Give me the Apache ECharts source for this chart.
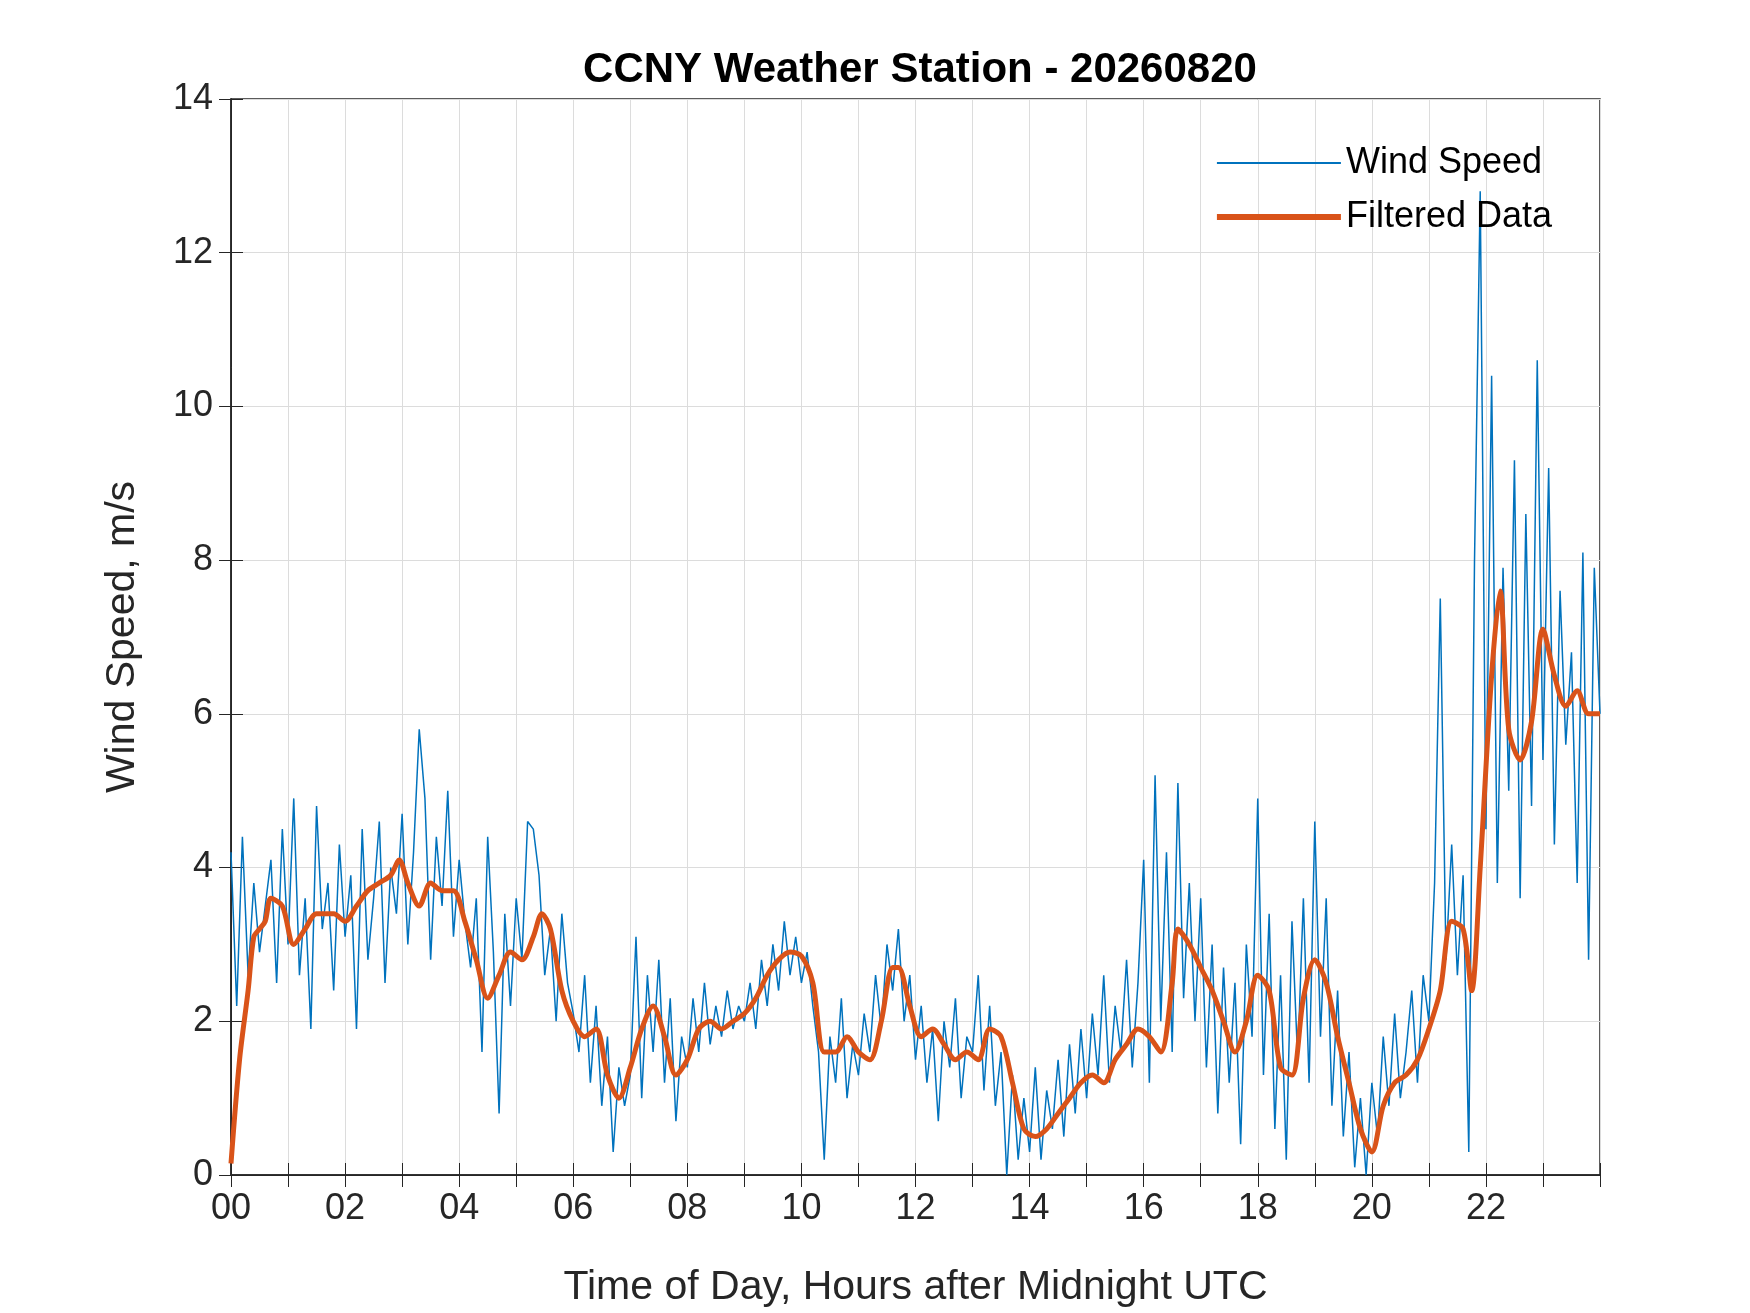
<!DOCTYPE html>
<html><head><meta charset="utf-8">
<script src="https://cdn.jsdelivr.net/npm/echarts@6/dist/echarts.min.js"></script>
<style>html,body{margin:0;padding:0;background:#fff}#c{width:1750px;height:1313px}</style>
</head><body><div id="c"></div>
<script>
// Wind speed samples, one every 0.1 h, hour by hour
const windStep = 0.1;
const windValues = [
4.2,2.2,4.4,2.6,3.8,2.9,3.5,4.1,2.5,4.5,
3.0,4.9,2.6,3.6,1.9,4.8,3.2,3.8,2.4,4.3,
3.1,3.9,1.9,4.5,2.8,3.6,4.6,2.5,4.0,3.4,
4.7,3.0,4.2,5.8,4.9,2.8,4.4,3.5,5.0,3.1,
4.1,3.3,2.7,3.6,1.6,4.4,2.9,0.8,3.4,2.2,
3.6,2.8,4.6,4.5,3.9,2.6,3.2,2.0,3.4,2.5,
2.1,1.6,2.6,1.2,2.2,0.9,1.8,0.3,1.4,0.9,
1.3,3.1,1.0,2.6,1.6,2.8,1.2,2.3,0.7,1.8,
1.4,2.3,1.6,2.5,1.7,2.2,1.8,2.4,1.9,2.2,
2.0,2.5,1.9,2.8,2.2,3.0,2.4,3.3,2.6,3.1,
2.5,2.9,2.2,1.6,0.2,1.8,1.2,2.3,1.0,1.7,
1.3,2.1,1.6,2.6,1.9,3.0,2.4,3.2,2.0,2.6,
1.5,2.2,1.2,1.9,0.7,2.0,1.4,2.3,1.0,1.8,
1.6,2.6,1.1,2.2,0.9,1.6,0.0,1.3,0.2,1.0,
0.3,1.4,0.2,1.1,0.6,1.5,0.5,1.7,0.8,1.9,
1.0,2.1,1.3,2.6,1.2,2.2,1.6,2.8,1.4,2.5,
4.1,1.2,5.2,2.0,4.2,1.6,5.1,2.3,3.8,2.0,
3.6,1.4,3.0,0.8,2.7,1.2,2.5,0.4,3.0,1.8,
4.9,1.3,3.4,0.6,2.6,0.2,3.3,1.5,3.6,1.2,
4.6,1.8,3.6,0.9,2.4,0.5,1.6,0.1,1.0,0.0,
1.2,0.5,1.8,0.9,2.1,1.0,1.6,2.4,1.2,2.6,
2.0,3.8,7.5,2.8,4.3,2.6,3.9,0.3,8.0,12.8,
4.5,10.4,3.8,7.9,5.0,9.3,3.6,8.6,4.8,10.6,
5.4,9.2,4.3,7.6,5.6,6.8,3.8,8.1,2.8,7.9,
6.0];
const filtHours = [0,0.15,0.3,0.4,0.5,0.6,0.7,0.9,1.1,1.3,1.5,1.8,2.0,2.2,2.4,2.6,2.8,2.95,3.1,3.3,3.5,3.7,3.9,4.1,4.3,4.5,4.7,4.9,5.1,5.3,5.45,5.6,5.8,6.0,6.2,6.4,6.6,6.8,7.0,7.2,7.4,7.6,7.8,8.0,8.2,8.4,8.6,8.8,9.0,9.2,9.4,9.6,9.8,10.0,10.2,10.4,10.6,10.8,11.0,11.2,11.4,11.6,11.7,11.9,12.1,12.3,12.5,12.7,12.9,13.1,13.3,13.5,13.7,13.9,14.1,14.3,14.5,14.7,14.9,15.1,15.3,15.5,15.7,15.9,16.1,16.3,16.5,16.6,16.8,17.0,17.2,17.4,17.6,17.8,18.0,18.2,18.4,18.6,18.8,19.0,19.2,19.4,19.6,19.8,20.0,20.2,20.4,20.6,20.8,21.0,21.2,21.4,21.6,21.75,21.9,22.1,22.25,22.4,22.6,22.8,23.0,23.2,23.4,23.6,23.8,24.0];
const filtValues = [0.15,1.5,2.4,3.1,3.2,3.3,3.6,3.5,3.0,3.2,3.4,3.4,3.3,3.5,3.7,3.8,3.9,4.1,3.8,3.5,3.8,3.7,3.7,3.3,2.8,2.3,2.6,2.9,2.8,3.1,3.4,3.2,2.4,2.0,1.8,1.9,1.3,1.0,1.4,1.9,2.2,1.8,1.3,1.5,1.9,2.0,1.9,2.0,2.1,2.3,2.6,2.8,2.9,2.85,2.5,1.6,1.6,1.8,1.6,1.5,2.0,2.7,2.7,2.2,1.8,1.9,1.7,1.5,1.6,1.5,1.9,1.8,1.2,0.6,0.5,0.6,0.8,1.0,1.2,1.3,1.2,1.5,1.7,1.9,1.8,1.6,2.5,3.2,3.0,2.7,2.4,2.0,1.6,2.0,2.6,2.4,1.4,1.3,2.3,2.8,2.5,1.8,1.2,0.6,0.3,0.9,1.2,1.3,1.5,1.9,2.4,3.3,3.2,2.4,4.0,6.5,7.6,5.8,5.4,5.9,7.1,6.5,6.1,6.3,6.0,6.0];

const windData = windValues.map((v,i)=>[+(i*windStep).toFixed(2), v]);
const filtData = filtHours.map((h,i)=>[h, filtValues[i]]);
const F = 'Arial, "Liberation Sans", sans-serif';
const ax = '#262626';
const pad = v => (v<10?'0':'')+v;
const chart = echarts.init(document.getElementById('c'));
chart.setOption({
  animation:false,
  title:{text:'CCNY Weather Station - 20260820', left:915, top:44, textAlign:'center',
    textStyle:{fontFamily:F,fontSize:42,fontWeight:'bold',color:'#000'}},
  grid:{left:231,right:150,top:99,bottom:132,show:true,borderColor:ax,borderWidth:1.5},
  legend:{orient:'vertical',right:193,top:140,itemWidth:124,itemHeight:22,itemGap:18,
    textStyle:{fontFamily:F,fontSize:36,color:'#000'},
    data:[{name:'Wind Speed',icon:'path://M0,10 L124,10 L124,12 L0,12 Z'},{name:'Filtered Data',icon:'path://M0,8 L124,8 L124,14 L0,14 Z'}]},
  xAxis:[{type:'value',min:0,max:24,interval:1,
    name:'Time of Day, Hours after Midnight UTC',nameLocation:'middle',nameGap:92,
    nameTextStyle:{fontFamily:F,fontSize:41,color:ax},
    axisLine:{lineStyle:{color:ax,width:1.5}},
    axisTick:{inside:true,length:12,lineStyle:{color:ax}},
    axisLabel:{fontFamily:F,fontSize:36,color:ax,margin:16,
      formatter:v=>(v%2===0&&v<24)?pad(v):''},
    splitLine:{lineStyle:{color:'#dcdcdc',width:1}}},
   {type:'value',position:'top',min:0,max:24,interval:1,
    axisLine:{lineStyle:{color:ax}},axisTick:{inside:true,length:12,lineStyle:{color:ax}},
    axisLabel:{show:false},splitLine:{show:false}}],
  yAxis:[{type:'value',min:0,max:14,interval:2,
    name:'Wind Speed, m/s',nameLocation:'middle',nameGap:88,
    nameTextStyle:{fontFamily:F,fontSize:41,color:ax},
    axisLine:{show:true,lineStyle:{color:ax,width:1.5}},
    axisTick:{show:true,inside:true,length:12,lineStyle:{color:ax}},
    axisLabel:{fontFamily:F,fontSize:36,color:ax,margin:18},
    splitLine:{lineStyle:{color:'#dcdcdc',width:1}}},
   {type:'value',position:'right',min:0,max:14,interval:2,
    axisLine:{show:true,lineStyle:{color:ax}},axisTick:{show:true,inside:true,length:12,lineStyle:{color:ax}},
    axisLabel:{show:false},splitLine:{show:false}}],
  series:[
    {name:'Wind Speed',type:'line',data:windData,showSymbol:false,
      lineStyle:{color:'#0072BD',width:1.5},itemStyle:{color:'#0072BD'}},
    {name:'Filtered Data',type:'line',data:filtData,showSymbol:false,smooth:0.3,
      lineStyle:{color:'#D95319',width:5},itemStyle:{color:'#D95319'}}
  ]
});
</script></body></html>
